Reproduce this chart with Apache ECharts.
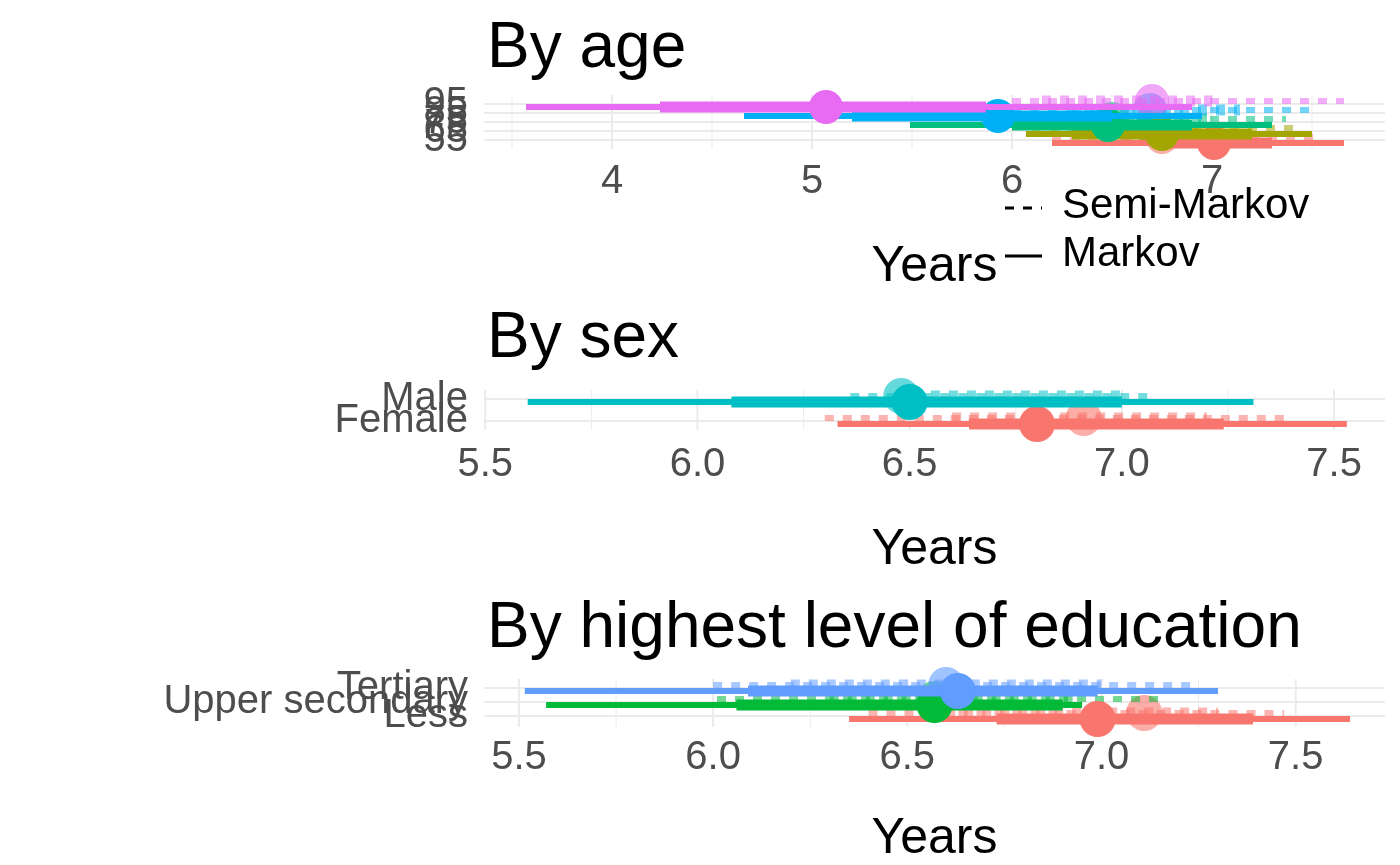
<!DOCTYPE html>
<html><head><meta charset="utf-8">
<script src="https://cdn.jsdelivr.net/npm/echarts@6/dist/echarts.min.js"></script>
<style>html,body{margin:0;padding:0;background:#fff}#c{width:1400px;height:865px}</style>
</head><body><div id="c"></div>
<script>
// values: [lo95, lo_inner, mid, hi_inner, hi95]
const ageCats = ["55","65","75","85","95"];
const ageColors = ["#F8766D","#A3A500","#00BF7D","#00B0F6","#E76BF3"];
const ageMarkov = [[6.2,6.75,7.01,7.3,7.66],[6.07,6.3,6.75,7.2,7.5],[5.49,6.0,6.48,6.9,7.3],[4.66,5.2,5.93,6.5,6.95],[3.57,4.24,5.07,5.87,6.9]];
const ageSemi = [[6.2,6.45,6.75,7.1,7.55],[6.1,6.35,6.7,7.05,7.45],[6.0,6.3,6.5,7.0,7.37],[6.0,6.3,6.69,7.14,7.5],[6.0,6.15,6.7,7.0,7.66]];
const sexCats = ["Female","Male"];
const sexColors = ["#F8766D","#00BFC4"];
const sexMarkov = [[6.33,6.64,6.8,7.24,7.53],[5.6,6.08,6.5,7.0,7.31]];
const sexSemi = [[6.3,6.6,6.91,7.2,7.4],[6.36,6.55,6.48,7.0,7.07]];
const eduCats = ["Less","Upper secondary","Tertiary"];
const eduColors = ["#F8766D","#00BA38","#619CFF"];
const eduMarkov = [[6.35,6.73,6.99,7.39,7.64],[5.57,6.06,6.57,6.9,6.95],[5.515,6.09,6.63,6.99,7.3]];
const eduSemi = [[6.4,6.6,7.11,7.3,7.47],[6.01,6.3,6.57,6.95,7.15],[6.0,6.2,6.6,7.0,7.25]];

const chart = echarts.init(document.getElementById('c'));
const tcol = '#4d4d4d';
const F='Liberation Sans';
const panels = [
  {cats:ageCats,colors:ageColors,m:ageMarkov,s:ageSemi,top:104,h:36,min:3.36,max:7.865,labs:[4,5,6,7],minor:[3.5,4.5,5.5,6.5,7.5],dodge:3,thin:6,thick:11,r:17,margin:22,gap:102},
  {cats:sexCats,colors:sexColors,m:sexMarkov,s:sexSemi,top:399,h:22,min:5.497,max:7.62,labs:[5.5,6,6.5,7,7.5],minor:[5.75,6.25,6.75,7.25],dodge:3,thin:6,thick:11,r:18,margin:24,gap:104},
  {cats:eduCats,colors:eduColors,m:eduMarkov,s:eduSemi,top:688,h:30,min:5.41,max:7.73,labs:[5.5,6,6.5,7,7.5],minor:[5.75,6.25,6.75,7.25],dodge:3,thin:6,thick:11,r:18,margin:22,gap:98}
];
const grid=[],xAxis=[],yAxis=[],series=[];
panels.forEach((p,i)=>{
  grid.push({left:484,right:15,top:p.top,height:p.h});
  xAxis.push({type:'value',gridIndex:i,min:p.min,max:p.max,
    axisLine:{show:false},axisTick:{show:false},
    axisLabel:{customValues:p.labs,color:tcol,fontSize:40,margin:p.margin,fontFamily:F,formatter:v=>i===0?String(v):v.toFixed(1)},
    splitLine:{show:false},
    name:'Years',nameLocation:'middle',nameGap:p.gap,nameTextStyle:{fontSize:50,color:'#000',fontFamily:F}});
  yAxis.push({type:'category',gridIndex:i,data:p.cats,boundaryGap:false,
    axisLine:{show:false},axisTick:{show:false},
    axisLabel:{interval:0,hideOverlap:false,color:tcol,fontSize:40,margin:16,fontFamily:F},
    splitLine:{show:true,lineStyle:{color:'#ebebeb',width:2}}});
  const gridLines=(vals,w)=>({type:'custom',xAxisIndex:i,yAxisIndex:i,silent:true,z:0,
    data:vals.map(v=>[v]),
    renderItem:(params,api)=>{const x=api.coord([api.value(0),0])[0];
      return {type:'line',shape:{x1:x,y1:p.top-9,x2:x,y2:p.top+p.h+9},style:{stroke:'#ebebeb',lineWidth:w}};}});
  series.push(gridLines(p.labs,2));series.push(gridLines(p.minor,1));
  const mk=(arr,semi)=>({type:'custom',xAxisIndex:i,yAxisIndex:i,z:semi?2:3,
    data:arr.map((v,k)=>[k].concat(v)),
    renderItem:(params,api)=>{
      const k=api.value(0);const col=p.colors[k];
      const y=api.coord([0,k])[1]+(semi?-p.dodge:p.dodge);
      const X=j=>api.coord([api.value(j),k])[0];
      const dash=semi?[9,9]:null;const op=semi?0.55:1;
      return {type:'group',children:[
        {type:'line',shape:{x1:X(1),y1:y,x2:X(5),y2:y},style:{stroke:col,lineWidth:p.thin,lineDash:dash,opacity:op}},
        {type:'line',shape:{x1:X(2),y1:y,x2:X(4),y2:y},style:{stroke:col,lineWidth:p.thick,lineDash:dash,opacity:op}},
        {type:'circle',shape:{cx:X(3),cy:y,r:p.r},style:{fill:col,opacity:semi?0.6:1}}
      ]};
    }});
  series.push(mk(p.s,true));series.push(mk(p.m,false));
});
chart.setOption({animation:false,
  title:[
    {text:'By age',left:482,top:12,textStyle:{fontSize:64,fontWeight:'normal',color:'#000',fontFamily:F}},
    {text:'By sex',left:482,top:302,textStyle:{fontSize:64,fontWeight:'normal',color:'#000',fontFamily:F}},
    {text:'By highest level of education',left:482,top:592,textStyle:{fontSize:64,fontWeight:'normal',color:'#000',fontFamily:F}}
  ],
  graphic:[
    {type:'line',shape:{x1:1005,y1:208,x2:1042,y2:208},style:{stroke:'#000',lineWidth:3,lineDash:[9,9]}},
    {type:'text',left:1062,top:185,style:{text:'Semi-Markov',fontSize:42,fill:'#000',fontFamily:F}},
    {type:'line',shape:{x1:1005,y1:256,x2:1042,y2:256},style:{stroke:'#000',lineWidth:3}},
    {type:'text',left:1062,top:233,style:{text:'Markov',fontSize:42,fill:'#000',fontFamily:F}}
  ],
  grid,xAxis,yAxis,series});
</script></body></html>
